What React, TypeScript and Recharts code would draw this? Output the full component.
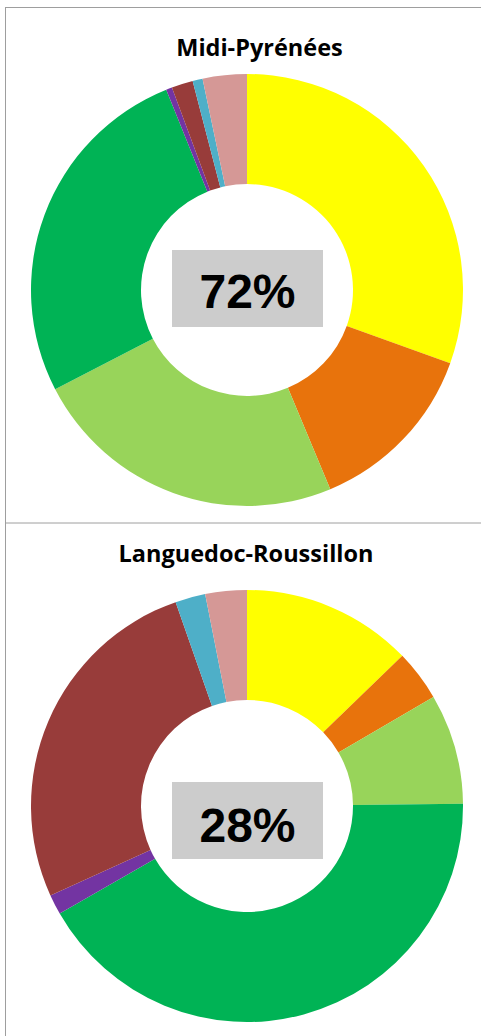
import { Cell, Pie, PieChart } from "recharts";

const categories = ["A", "B", "C", "D", "E", "F", "G", "H"];
const sliceColors = [
  "#FFFF00",
  "#E8730C",
  "#98D45A",
  "#00B355",
  "#7334A2",
  "#983C3A",
  "#4EAFC8",
  "#D59896",
];

const regionNames = ["Midi-Pyrénées", "Languedoc-Roussillon"];
const regionShares = ["72%", "28%"];

const midiPyreneesValues = [30.5, 13.2, 23.7, 26.5, 0.45, 1.6, 0.75, 3.3];
const languedocValues = [12.75, 3.8, 8.25, 41.8, 1.5, 26.4, 2.25, 3.1];

const toRows = (values: number[]) =>
  categories.map((name, i) => ({ name, value: values[i] }));

const W = 481;
const H = 1036;

// panel geometry (pie centres, title baselines, label boxes)
const panels = [
  { cy: 290, titleX: 259.5, titleY: 56, boxY: 250, textY: 308 },
  { cy: 806, titleX: 246, titleY: 562, boxY: 782, textY: 842 },
];

export default function App() {
  const series = [midiPyreneesValues, languedocValues];

  return (
    <div
      style={{
        position: "absolute",
        left: 0,
        top: 0,
        width: W,
        height: H,
        background: "#fff",
      }}
    >
      <PieChart width={W} height={H} margin={{ top: 0, right: 0, bottom: 0, left: 0 }}>
        {series.map((values, p) => (
          <Pie
            key={p}
            data={toRows(values)}
            dataKey="value"
            nameKey="name"
            cx={247}
            cy={panels[p].cy}
            innerRadius={106}
            outerRadius={216}
            startAngle={90}
            endAngle={-270}
            stroke="none"
            isAnimationActive={false}
          >
            {values.map((_, i) => (
              <Cell key={i} fill={sliceColors[i]} />
            ))}
          </Pie>
        ))}
      </PieChart>

      <svg
        width={W}
        height={H}
        style={{ position: "absolute", left: 0, top: 0, pointerEvents: "none" }}
      >
        <line x1={5.5} y1={7} x2={5.5} y2={H} stroke="#9E9E9E" />
        <line x1={5} y1={7.5} x2={W} y2={7.5} stroke="#9E9E9E" />
        <line x1={5} y1={523} x2={W} y2={523} stroke="#9E9E9E" />

        {panels.map((pn, p) => (
          <g key={p}>
            <text
              x={pn.titleX}
              y={pn.titleY}
              textAnchor="middle"
              fontFamily="'Open Sans', sans-serif"
              fontWeight="bold"
              fontSize={23.5}
              fill="#000"
            >
              {regionNames[p]}
            </text>
            <rect x={172} y={pn.boxY} width={151} height={77} fill="#CCCCCC" />
            <text
              x={247.5}
              y={pn.textY}
              textAnchor="middle"
              fontFamily="'Liberation Sans', Arial, sans-serif"
              fontWeight="bold"
              fontSize={48}
              fill="#000"
            >
              {regionShares[p]}
            </text>
          </g>
        ))}
      </svg>
    </div>
  );
}
